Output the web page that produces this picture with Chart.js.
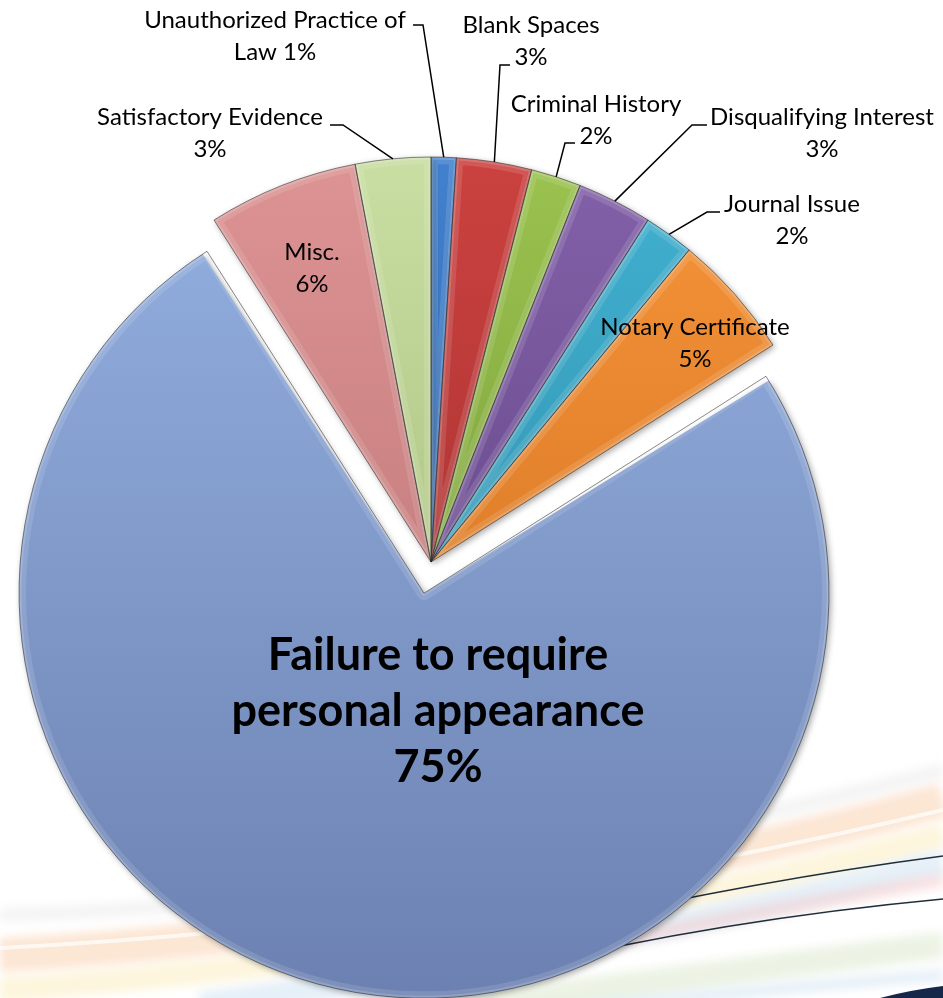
<!DOCTYPE html>
<html>
<head>
<meta charset="utf-8">
<script src="https://cdn.jsdelivr.net/npm/chart.js@4/dist/chart.umd.min.js"></script>
<style>
  html, body { margin: 0; padding: 0; background: #fff; overflow: hidden; }
  #wrap { width: 943px; height: 998px; }
</style>
</head>
<body>
<div id="wrap"><canvas id="myChart" width="943" height="998"></canvas></div>
<script>
// data (clockwise from 12 o'clock)
const categories = [
  "Unauthorized Practice of Law", "Blank Spaces", "Criminal History",
  "Disqualifying Interest", "Journal Issue", "Notary Certificate",
  "Failure to require personal appearance", "Misc.", "Satisfactory Evidence"
];
const shares = [1, 3, 2, 3, 2, 5, 75, 6, 3];

// how each label wraps; pct goes on its own line unless inline
const nameLines = [
  ["Unauthorized Practice of", "Law"], ["Blank Spaces"], ["Criminal History"],
  ["Disqualifying Interest"], ["Journal Issue"], ["Notary Certificate"],
  ["Failure to require", "personal appearance"], ["Misc."], ["Satisfactory Evidence"]
];
const pctInline = [true, false, false, false, false, false, false, false, false];

// styling / placement
const topColors = ["#4382cf", "#cc4240", "#9cc450", "#8462aa", "#42b2d2", "#f7953a", "#93b0e0", "#de9494", "#cadfa3"];
const bottomColors = ["#245596", "#952a2a", "#678a2c", "#553878", "#28809b", "#c8691a", "#6b80b0", "#b46c6c", "#98b06c"];
const sliceOffset = [0, 0, 0, 0, 0, 0, 128, 0, 0];
const labelAnchor = [[275, 28], [531, 33], [596, 112], [822, 125], [792, 212], [695, 335], [438, 670], [312, 260], [210, 125]];
const leaderElbows = [[423, 25, 413], [500, 65, 510], [565, 143, 575], [692, 125, 707], [707, 212, 720], null, null, null, [343, 125, 330]];

const ctx = document.getElementById("myChart");

function slicePath(c, arc) {
  const off = (arc.options.offset || 0) / 4;
  const mid = (arc.startAngle + arc.endAngle) / 2;
  const cx = arc.x + Math.cos(mid) * off;
  const cy = arc.y + Math.sin(mid) * off;
  const r = arc.outerRadius + (arc.circumference >= Math.PI ? off : 0);
  c.beginPath();
  c.moveTo(cx, cy);
  c.arc(cx, cy, r, arc.startAngle, arc.endAngle);
  c.closePath();
}

const backdrop = {
  id: "backdrop",
  beforeDraw(chart) {
    const c = chart.ctx;
    c.save();
    c.fillStyle = "#fff";
    c.fillRect(0, 0, chart.width, chart.height);
    c.filter = "blur(5px)";
    const bands = [
      ["rgba(236,236,236,0.6)", 14, 0, 915, 420, 905, 943, 770],
      ["rgba(250,205,170,0.5)", 34, 0, 955, 460, 930, 943, 800],
      ["rgba(252,236,185,0.5)", 24, 0, 990, 500, 955, 943, 835],
      ["rgba(205,225,242,0.5)", 26, 200, 1005, 560, 960, 943, 862],
      ["rgba(244,196,196,0.45)", 14, 400, 990, 620, 935, 943, 880],
      ["rgba(220,234,205,0.55)", 26, 400, 1015, 700, 975, 943, 945],
      ["rgba(205,225,242,0.5)", 12, 500, 1015, 760, 990, 943, 975]
    ];
    bands.forEach((b) => {
      c.beginPath();
      c.moveTo(b[2], b[3]);
      c.quadraticCurveTo(b[4], b[5], b[6], b[7]);
      c.strokeStyle = b[0];
      c.lineWidth = b[1];
      c.stroke();
    });
    c.filter = "none";
    c.strokeStyle = "rgba(255,255,255,0.7)";
    c.lineWidth = 4;
    c.beginPath();
    c.moveTo(0, 948);
    c.quadraticCurveTo(460, 925, 943, 810);
    c.stroke();
    c.strokeStyle = "#1d2f3a";
    c.lineWidth = 1.6;
    c.beginPath();
    c.moveTo(560, 925);
    c.quadraticCurveTo(760, 880, 943, 856);
    c.stroke();
    c.beginPath();
    c.moveTo(520, 968);
    c.quadraticCurveTo(720, 920, 943, 899);
    c.stroke();
    c.fillStyle = "#16284a";
    c.beginPath();
    c.moveTo(880, 998);
    c.quadraticCurveTo(910, 990, 943, 986);
    c.lineTo(943, 998);
    c.closePath();
    c.fill();
    c.restore();
  },
  beforeDatasetsDraw(chart) {
    const c = chart.ctx;
    c.save();
    c.shadowColor = "rgba(0,0,0,0.35)";
    c.shadowBlur = 6;
    c.shadowOffsetX = 2;
    c.shadowOffsetY = 2;
  },
  afterDatasetsDraw(chart) {
    chart.ctx.restore();
  }
};

const bevel = {
  id: "bevel",
  afterDatasetUpdate(chart, args) {
    // offset also grows big slices' radius; keep the rim at the same radius
    args.meta.data.forEach((arc) => {
      const off = (arc.options && arc.options.offset) || 0;
      if (off && arc.circumference >= Math.PI) arc.outerRadius -= off / 4;
    });
  },
  afterDatasetsDraw(chart) {
    const c = chart.ctx;
    const arcs = chart.getDatasetMeta(0).data;
    arcs.forEach((arc) => {
      c.save();
      slicePath(c, arc);
      c.clip();
      slicePath(c, arc);
      c.strokeStyle = "rgba(255,255,255,0.12)";
      c.lineWidth = 14;
      c.lineJoin = "round";
      c.stroke();
      c.strokeStyle = "rgba(255,255,255,0.16)";
      c.lineWidth = 5;
      c.stroke();
      c.restore();
      c.save();
      slicePath(c, arc);
      c.strokeStyle = "rgba(40,40,40,0.55)";
      c.lineWidth = 1;
      c.stroke();
      c.restore();
    });
  }
};

const sliceLabels = {
  id: "sliceLabels",
  afterDatasetsDraw(chart) {
    const c = chart.ctx;
    const arcs = chart.getDatasetMeta(0).data;
    c.save();
    arcs.forEach((arc, i) => {
      const elbow = leaderElbows[i];
      if (elbow) {
        const mid = (arc.startAngle + arc.endAngle) / 2;
        const px = arc.x + Math.cos(mid) * arc.outerRadius;
        const py = arc.y + Math.sin(mid) * arc.outerRadius;
        c.beginPath();
        c.moveTo(px, py);
        c.lineTo(elbow[0], elbow[1]);
        c.lineTo(elbow[2], elbow[1]);
        c.strokeStyle = "#000";
        c.lineWidth = 1.5;
        c.stroke();
      }
      const pct = shares[i] + "%";
      const lines = nameLines[i].slice();
      if (pctInline[i]) lines[lines.length - 1] += " " + pct;
      else lines.push(pct);
      const big = i === 6;
      c.font = big ? "bold 45px Lato" : "24px Lato";
      c.fillStyle = "#000";
      c.textAlign = "center";
      c.textBaseline = "alphabetic";
      const gap = big ? 56 : 32;
      lines.forEach((t, k) => c.fillText(t, labelAnchor[i][0], labelAnchor[i][1] + k * gap));
    });
    c.restore();
  }
};

new Chart(ctx, {
  type: "pie",
  data: {
    labels: categories,
    datasets: [
      {
        data: shares,
        backgroundColor: (s) => {
          const area = s.chart.chartArea;
          if (!area) return topColors[s.dataIndex];
          const g = s.chart.ctx.createLinearGradient(0, area.top, 0, area.bottom);
          g.addColorStop(0, topColors[s.dataIndex]);
          g.addColorStop(1, bottomColors[s.dataIndex]);
          return g;
        },
        borderWidth: 0,
        offset: sliceOffset,
        hoverOffset: 0,
      },
    ],
  },
  options: {
    responsive: false,
    animation: false,
    events: [],
    radius: 405,
    rotation: 0,
    layout: { padding: { left: 10, right: 91, top: 141, bottom: 15 } },
    plugins: {
      legend: { display: false },
      tooltip: { enabled: false },
    },
  },
  plugins: [backdrop, bevel, sliceLabels],
});
</script>
</body>
</html>
